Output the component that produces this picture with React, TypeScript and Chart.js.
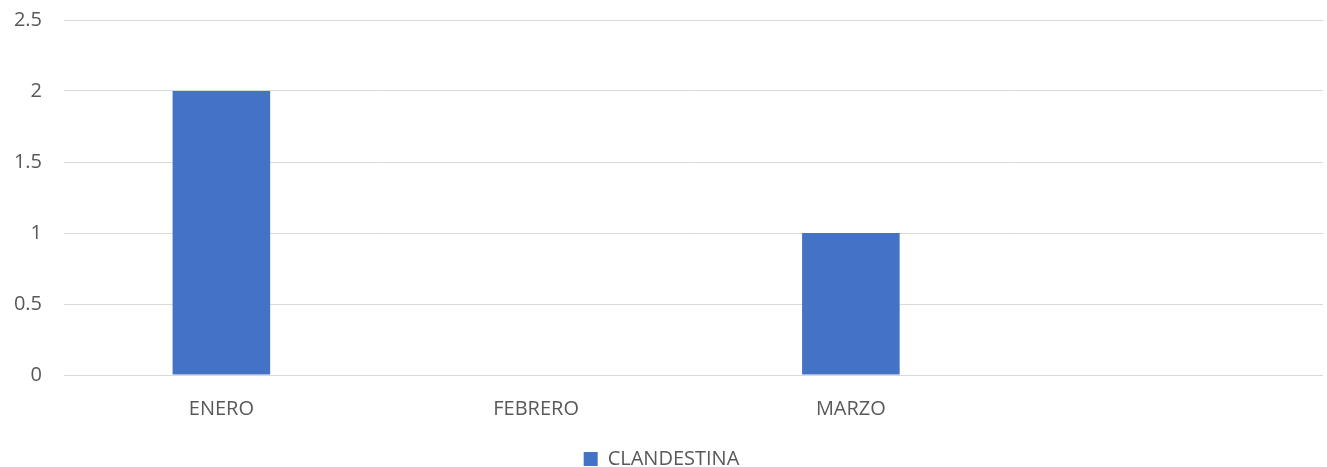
import React, { useEffect, useRef } from "react";
import { Chart, registerables } from "chart.js";

Chart.register(...registerables);

const categories = ["ENERO", "FEBRERO", "MARZO", ""];
const clandestina = [2, 0, 1, null];
const seriesLabel = "CLANDESTINA";

const FONT = "'Open Sans', 'Liberation Sans', sans-serif";
const TEXT = "#595959";

export default function App() {
  const ref = useRef<HTMLCanvasElement>(null);
  useEffect(() => {
    const chart = new Chart(ref.current!, {
      type: "bar",
      data: {
        labels: categories,
        datasets: [
          {
            label: seriesLabel,
            data: clandestina,
            backgroundColor: "#4472C4",
            borderWidth: 0,
            categoryPercentage: 1,
            barPercentage: 0.31,
          },
        ],
      },
      options: {
        animation: false,
        responsive: false,
        maintainAspectRatio: false,
        layout: { padding: { top: 20, right: 4, left: 0, bottom: -12 } },
        plugins: {
          tooltip: { enabled: false },
          legend: {
            position: "bottom",
            labels: {
              font: { family: FONT, size: 20 },
              color: TEXT,
              boxWidth: 14,
              boxHeight: 14,
              padding: 2,
            },
          },
        },
        scales: {
          x: {
            grid: { display: false, drawTicks: false },
            border: { display: false },
            ticks: { font: { family: FONT, size: 20 }, color: TEXT, padding: 22 },
            afterFit: (s: any) => {
              s.height = 72;
            },
          },
          y: {
            min: 0,
            max: 2.5,
            ticks: {
              stepSize: 0.5,
              font: { family: FONT, size: 20 },
              color: TEXT,
              padding: 22,
              callback: (v: any) => String(v),
            },
            grid: { color: "#d9d9d9", lineWidth: 1, drawTicks: false },
            border: { display: false },
            afterFit: (s: any) => {
              s.width = 64;
              s.paddingTop = 0;
              s.paddingBottom = 0;
            },
          },
        },
      },
    });
    return () => chart.destroy();
  }, []);
  return (
    <div style={{ position: "fixed", left: 0, top: 0, width: 1327, height: 467, background: "#fff" }}>
      <canvas ref={ref} width={1327} height={467} />
    </div>
  );
}
